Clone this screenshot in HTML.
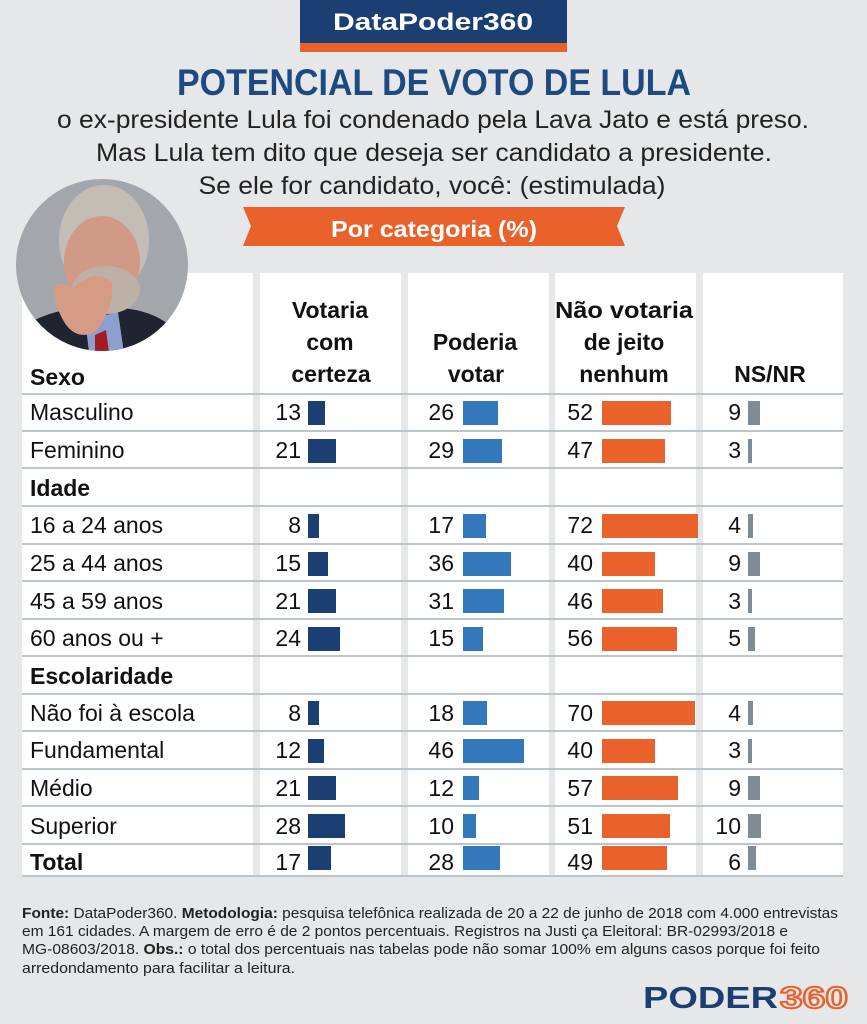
<!DOCTYPE html>
<html><head><meta charset="utf-8"><style>
html,body{margin:0;padding:0;background:#e6e7e8;}
svg{display:block;font-family:"Liberation Sans",sans-serif;}
</style></head><body>
<svg width="867" height="1024" viewBox="0 0 867 1024" xmlns="http://www.w3.org/2000/svg">
<rect width="867" height="1024" fill="#e6e7e8"/>
<rect x="300" y="0" width="267" height="43" fill="#1b3f73"/>
<rect x="300" y="43" width="267" height="9" fill="#e9612b"/>
<text x="433" y="30" text-anchor="middle" fill="#fff" font-weight="bold" font-size="24" textLength="200" lengthAdjust="spacingAndGlyphs">DataPoder360</text>
<text x="434" y="95" text-anchor="middle" fill="#1d4a80" font-weight="bold" font-size="37" textLength="514" lengthAdjust="spacingAndGlyphs">POTENCIAL DE VOTO DE LULA</text>
<g fill="#222" font-size="25" text-anchor="middle">
<text x="433" y="128" textLength="752" lengthAdjust="spacingAndGlyphs">o ex-presidente Lula foi condenado pela Lava Jato e está preso.</text>
<text x="434" y="161" textLength="676" lengthAdjust="spacingAndGlyphs">Mas Lula tem dito que deseja ser candidato a presidente.</text>
<text x="432" y="194" textLength="467" lengthAdjust="spacingAndGlyphs">Se ele for candidato, você: (estimulada)</text>
</g>
<polygon points="243,207 625,207 617,226 625,246 243,246 251,226" fill="#e9612b"/>
<text x="434" y="237" text-anchor="middle" fill="#fff" font-weight="bold" font-size="23" textLength="206" lengthAdjust="spacingAndGlyphs">Por categoria (%)</text>
<g fill="#fff">
<rect x="22" y="273" width="231" height="603"/>
<rect x="260" y="273" width="141" height="603"/>
<rect x="408" y="273" width="141" height="603"/>
<rect x="555" y="273" width="141" height="603"/>
<rect x="703" y="273" width="140" height="603"/>
</g>
<defs><clipPath id="c"><circle cx="102" cy="265" r="86"/></clipPath></defs>
<circle cx="102" cy="265" r="86" fill="#a3a7ab"/>
<g clip-path="url(#c)">
<path d="M25 325 Q60 305 100 308 Q150 305 175 330 L190 360 L20 360Z" fill="#1f2430"/>
<path d="M85 320 L118 312 L125 360 L90 360Z" fill="#8d9fcf"/>
<path d="M95 335 L106 330 L110 360 L95 360Z" fill="#a21d22"/>
<ellipse cx="104" cy="240" rx="45" ry="55" fill="#c3bdb6"/>
<ellipse cx="102" cy="262" rx="38" ry="46" fill="#d19a86"/>
<ellipse cx="106" cy="290" rx="34" ry="24" fill="#bdb1a6"/>
<path d="M55 300 Q50 275 72 288 Q95 268 112 282 Q115 308 95 332 Q68 345 55 300Z" fill="#d69b84"/>
</g>
<g font-weight="bold" font-size="23" fill="#111" text-anchor="middle">
<text x="30" y="385" text-anchor="start">Sexo</text>
<text x="330" y="318">Votaria</text><text x="330" y="350">com</text><text x="331" y="382">certeza</text>
<text x="475" y="350">Poderia</text><text x="476" y="382">votar</text>
<text x="624" y="318" textLength="138" lengthAdjust="spacingAndGlyphs">Não votaria</text><text x="624" y="350">de jeito</text><text x="624" y="382">nenhum</text>
<text x="770" y="382">NS/NR</text>
</g>
<g stroke="#bcc5cd" stroke-width="2">
<line x1="22" y1="394" x2="843" y2="394"/>
<line x1="22" y1="431" x2="843" y2="431"/>
<line x1="22" y1="468" x2="843" y2="468"/>
<line x1="22" y1="506" x2="843" y2="506"/>
<line x1="22" y1="544" x2="843" y2="544"/>
<line x1="22" y1="581" x2="843" y2="581"/>
<line x1="22" y1="619" x2="843" y2="619"/>
<line x1="22" y1="656" x2="843" y2="656"/>
<line x1="22" y1="694" x2="843" y2="694"/>
<line x1="22" y1="731" x2="843" y2="731"/>
<line x1="22" y1="769" x2="843" y2="769"/>
<line x1="22" y1="806" x2="843" y2="806"/>
<line x1="22" y1="844" x2="843" y2="844"/>
<line x1="22" y1="876" x2="843" y2="876"/>
</g>
<g font-size="23" fill="#111">
<g text-anchor="start">
<text x="30" y="420">Masculino</text>
<text x="30" y="458">Feminino</text>
<text x="30" y="496" font-weight="bold">Idade</text>
<text x="30" y="533">16 a 24 anos</text>
<text x="30" y="571">25 a 44 anos</text>
<text x="30" y="609">45 a 59 anos</text>
<text x="30" y="646">60 anos ou +</text>
<text x="30" y="684" font-weight="bold">Escolaridade</text>
<text x="30" y="721">Não foi à escola</text>
<text x="30" y="758">Fundamental</text>
<text x="30" y="796">Médio</text>
<text x="30" y="834">Superior</text>
<text x="30" y="870" font-weight="bold">Total</text>
</g>
<g text-anchor="end">
<text x="301" y="420">13</text><text x="454" y="420">26</text><text x="593" y="420">52</text><text x="741" y="420">9</text>
<text x="301" y="458">21</text><text x="454" y="458">29</text><text x="593" y="458">47</text><text x="741" y="458">3</text>
<text x="301" y="533">8</text><text x="454" y="533">17</text><text x="593" y="533">72</text><text x="741" y="533">4</text>
<text x="301" y="571">15</text><text x="454" y="571">36</text><text x="593" y="571">40</text><text x="741" y="571">9</text>
<text x="301" y="609">21</text><text x="454" y="609">31</text><text x="593" y="609">46</text><text x="741" y="609">3</text>
<text x="301" y="646">24</text><text x="454" y="646">15</text><text x="593" y="646">56</text><text x="741" y="646">5</text>
<text x="301" y="721">8</text><text x="454" y="721">18</text><text x="593" y="721">70</text><text x="741" y="721">4</text>
<text x="301" y="758">12</text><text x="454" y="758">46</text><text x="593" y="758">40</text><text x="741" y="758">3</text>
<text x="301" y="796">21</text><text x="454" y="796">12</text><text x="593" y="796">57</text><text x="741" y="796">9</text>
<text x="301" y="834">28</text><text x="454" y="834">10</text><text x="593" y="834">51</text><text x="741" y="834">10</text>
<text x="301" y="870">17</text><text x="454" y="870">28</text><text x="593" y="870">49</text><text x="741" y="870">6</text>
</g>
</g>
<g fill="#1c3f73">
<rect x="308" y="401" width="17" height="24"/><rect x="308" y="439" width="28" height="24"/>
<rect x="308" y="514" width="11" height="24"/><rect x="308" y="552" width="20" height="24"/>
<rect x="308" y="589" width="28" height="24"/><rect x="308" y="627" width="32" height="24"/>
<rect x="308" y="701" width="11" height="24"/><rect x="308" y="739" width="16" height="24"/>
<rect x="308" y="776" width="28" height="24"/><rect x="308" y="814" width="37" height="24"/>
<rect x="308" y="846" width="23" height="24"/>
</g>
<g fill="#3278bb">
<rect x="463" y="401" width="35" height="24"/><rect x="463" y="439" width="39" height="24"/>
<rect x="463" y="514" width="23" height="24"/><rect x="463" y="552" width="48" height="24"/>
<rect x="463" y="589" width="41" height="24"/><rect x="463" y="627" width="20" height="24"/>
<rect x="463" y="701" width="24" height="24"/><rect x="463" y="739" width="61" height="24"/>
<rect x="463" y="776" width="16" height="24"/><rect x="463" y="814" width="13" height="24"/>
<rect x="463" y="846" width="37" height="24"/>
</g>
<g fill="#e9612b">
<rect x="602" y="401" width="69" height="24"/><rect x="602" y="439" width="63" height="24"/>
<rect x="602" y="514" width="96" height="24"/><rect x="602" y="552" width="53" height="24"/>
<rect x="602" y="589" width="61" height="24"/><rect x="602" y="627" width="75" height="24"/>
<rect x="602" y="701" width="93" height="24"/><rect x="602" y="739" width="53" height="24"/>
<rect x="602" y="776" width="76" height="24"/><rect x="602" y="814" width="68" height="24"/>
<rect x="602" y="846" width="65" height="24"/>
</g>
<g fill="#7f8c95">
<rect x="748" y="401" width="12" height="24"/><rect x="748" y="439" width="4" height="24"/>
<rect x="748" y="514" width="5" height="24"/><rect x="748" y="552" width="12" height="24"/>
<rect x="748" y="589" width="4" height="24"/><rect x="748" y="627" width="7" height="24"/>
<rect x="748" y="701" width="5" height="24"/><rect x="748" y="739" width="4" height="24"/>
<rect x="748" y="776" width="12" height="24"/><rect x="748" y="814" width="13" height="24"/>
<rect x="748" y="846" width="8" height="24"/>
</g>
<g font-size="15" fill="#222">
<text x="22" y="918" textLength="816" lengthAdjust="spacingAndGlyphs"><tspan font-weight="bold">Fonte:</tspan> DataPoder360. <tspan font-weight="bold">Metodologia:</tspan> pesquisa telefônica realizada de 20 a 22 de junho de 2018 com 4.000 entrevistas</text>
<text x="22" y="936" textLength="766" lengthAdjust="spacingAndGlyphs">em 161 cidades. A margem de erro é de 2 pontos percentuais. Registros na Justi ça Eleitoral: BR-02993/2018 e</text>
<text x="22" y="954" textLength="798" lengthAdjust="spacingAndGlyphs">MG-08603/2018. <tspan font-weight="bold">Obs.:</tspan> o total dos percentuais nas tabelas pode não somar 100% em alguns casos porque foi feito</text>
<text x="22" y="973" textLength="273" lengthAdjust="spacingAndGlyphs">arredondamento para facilitar a leitura.</text>
</g>
<text x="643" y="1008" font-size="31" font-weight="bold" fill="#1c3f73" textLength="135" lengthAdjust="spacingAndGlyphs">PODER</text>
<text x="780" y="1008" font-size="31" font-weight="bold" fill="none" stroke="#e9612b" stroke-width="2" textLength="68" lengthAdjust="spacingAndGlyphs">360</text>
</svg>
</body></html>
